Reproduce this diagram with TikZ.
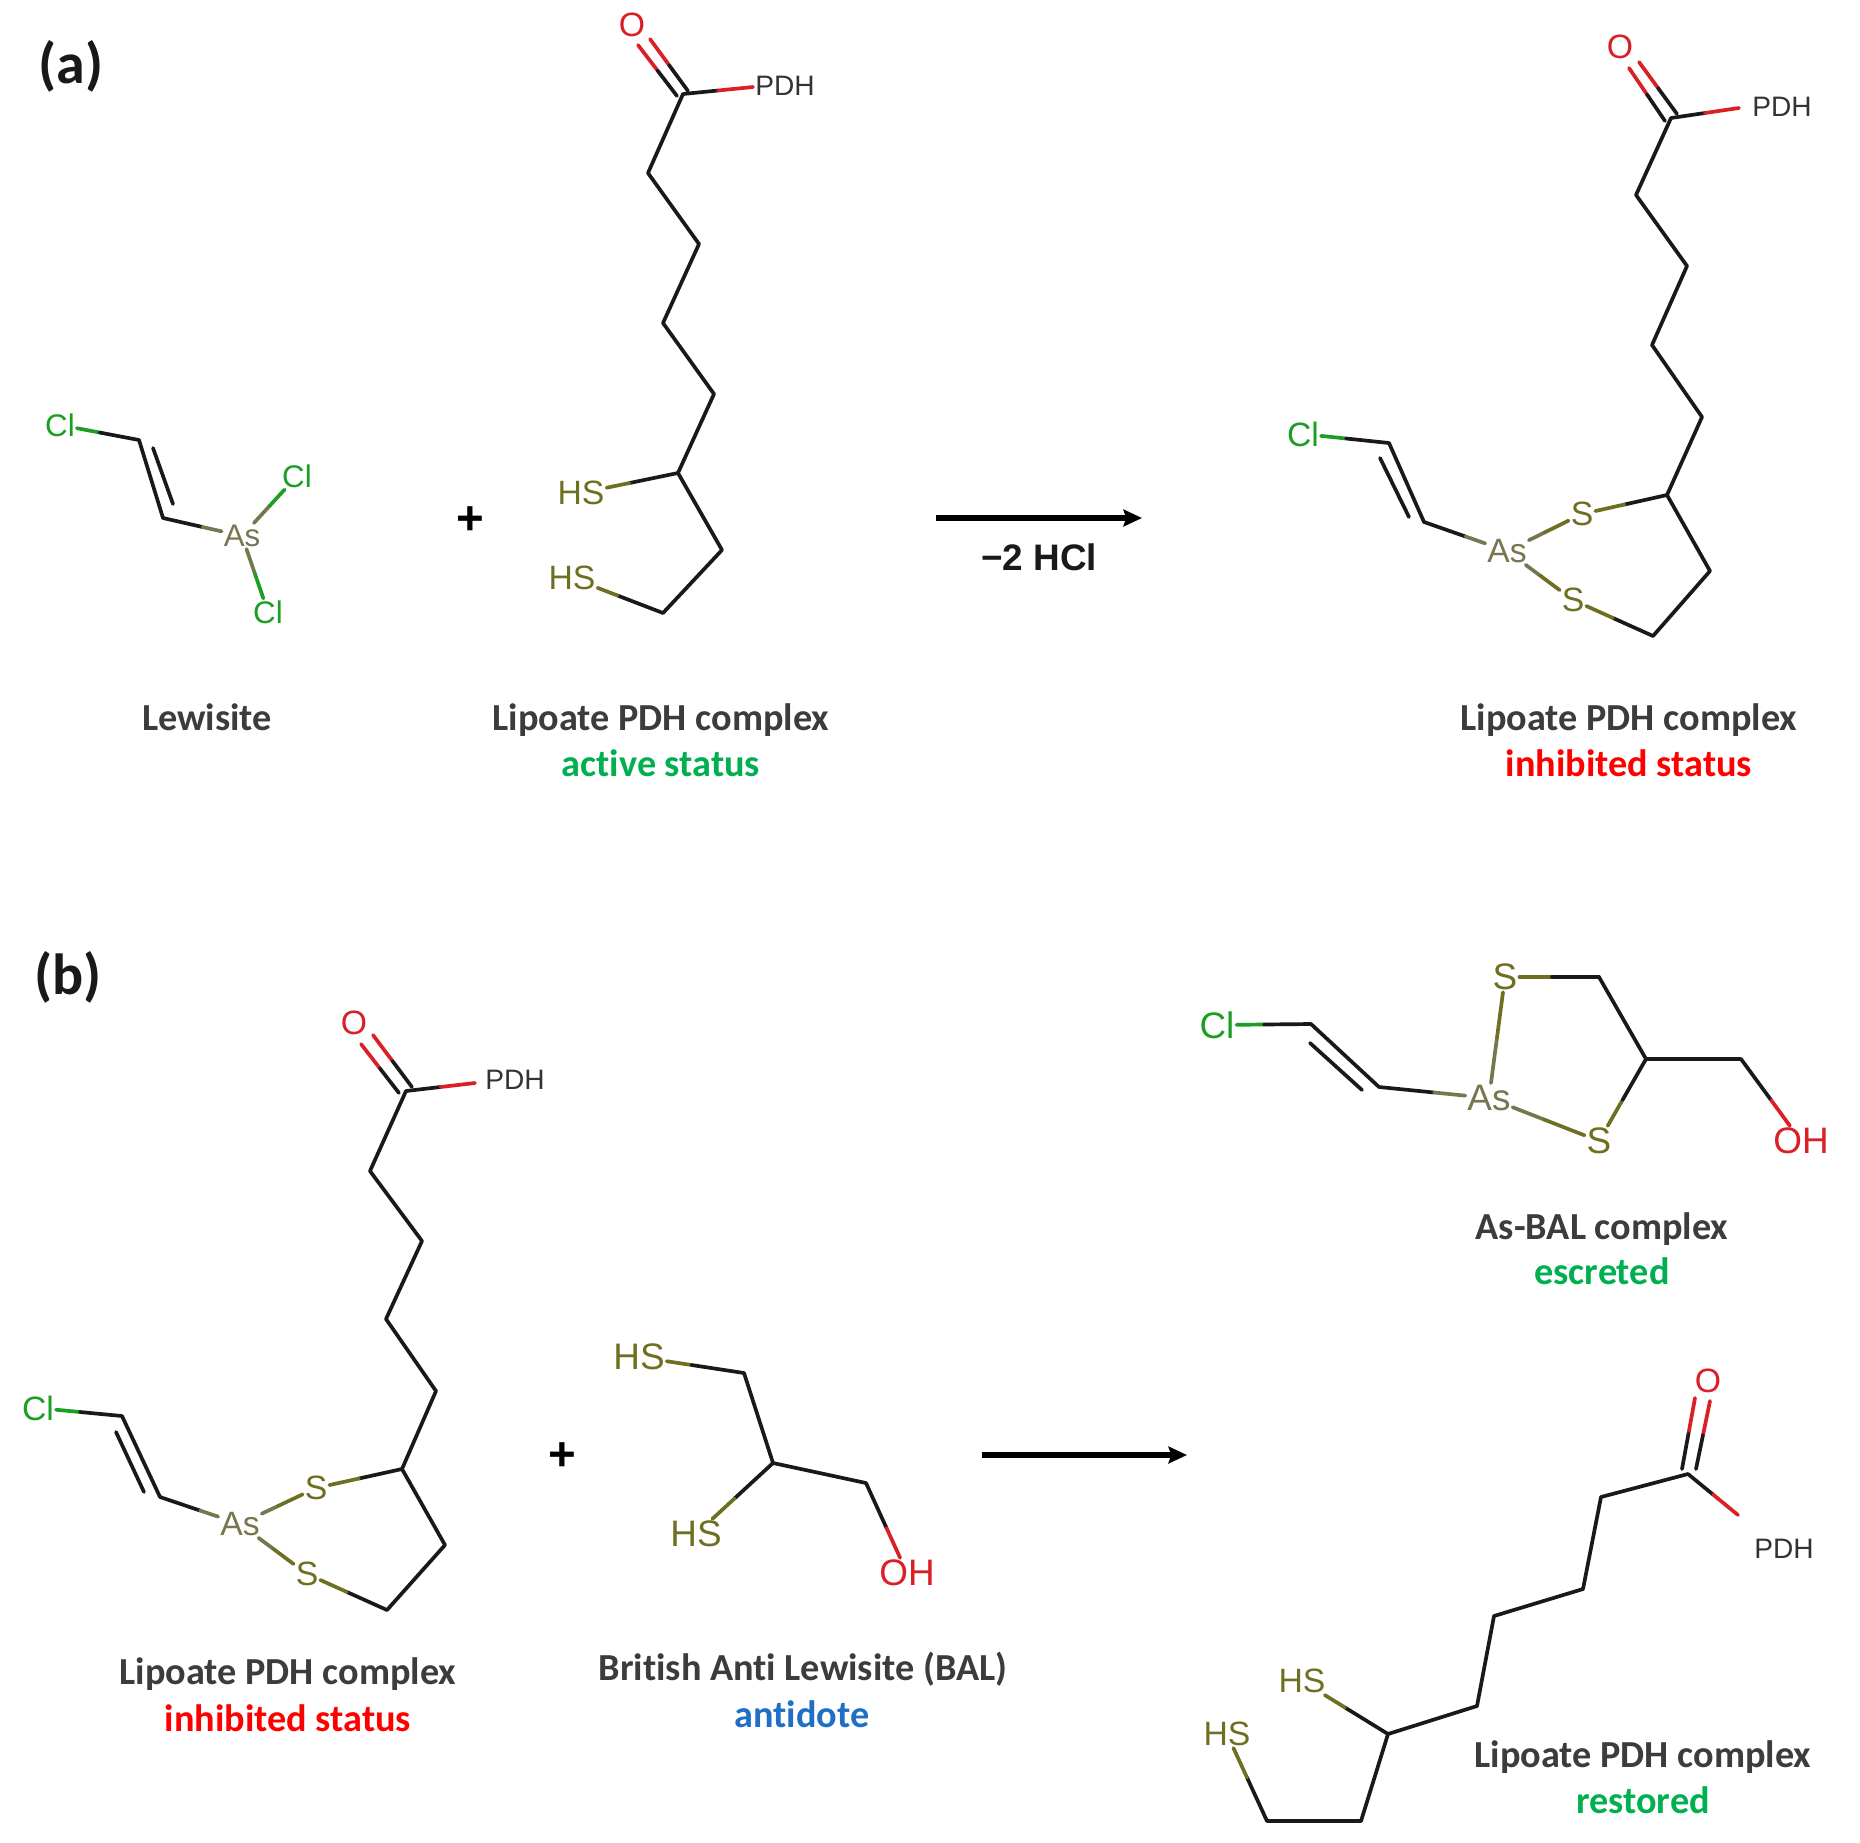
\documentclass[tikz,border=0pt]{standalone}
\usepackage{fontspec}
\setmainfont{Liberation Sans}
\newfontfamily\capfont{Carlito}[Ligatures=NoCommon,BoldFont={Carlito Bold}]
\usetikzlibrary{calc,arrows.meta}
\definecolor{clg}{HTML}{1C9E24}
\definecolor{asg}{HTML}{77774F}
\definecolor{sg}{HTML}{6F6F22}
\definecolor{og}{HTML}{DA1F26}
\definecolor{capgray}{HTML}{3C3C3C}
\definecolor{stgreen}{HTML}{00B050}
\definecolor{stred}{HTML}{FF0000}
\definecolor{stblue}{HTML}{1F6FC4}
\tikzset{
  x=0.02cm,y=-0.02cm,
  bondline/.style={line width=2.1pt,line cap=round,line join=round},
  cbond/.style={bondline,black!90},
  atomlabel/.style={inner sep=1pt,font=\fontsize{19.2}{21}\selectfont},
  atomcl/.style={atomlabel,text=clg},
  atomas/.style={atomlabel,text=asg},
  atoms/.style={atomlabel,text=sg},
  atomo/.style={atomlabel,text=og},
  bigatom/.style={font=\fontsize{21}{23}\selectfont},
  smallatom/.style={font=\fontsize{17.8}{20}\selectfont},
  pdhlabel/.style={inner sep=1pt,text=black!80,font=\fontsize{16}{18}\selectfont},
  captext/.style={inner sep=0pt,text height=16pt,text depth=4.2pt,font=\capfont\bfseries\fontsize{21.75}{24}\selectfont,text=capgray},
  panel/.style={inner sep=0pt,font=\capfont\bfseries\fontsize{33}{36}\selectfont,text=black!90},
  plussign/.style={inner sep=0pt,font=\bfseries\fontsize{27}{30}\selectfont,text=black},
  rxn/.style={line width=3.6pt,-{Stealth[length=10.5pt,width=9.5pt,inset=1.5pt]},black},
}
% two-tone bond: first half colour #3, second half colour #4
\newcommand\tb[4]{%
  \draw[bondline,#3] (#1) -- ($(#1)!.5!(#2)$);
  \draw[bondline,#4] ($(#1)!.5!(#2)$) -- (#2);
}
\begin{document}
\begin{tikzpicture}
\path[use as bounding box,fill=white] (0,0) rectangle (1860,1843);

% ---------- panel labels
\node[panel] (pa) at (71,66) {(a)};
\node[panel] (pb) at (68,977) {(b)};

\begin{scope}[shift={(-2,-1)}]
% ---------- (a) Lewisite
\node[atomcl,smallatom] (lcl1) at (62,426) {Cl};
\node[atomas,smallatom] (las) at (244,537) {As};
\node[atomcl,smallatom] (lcl2) at (299,477) {Cl};
\node[atomcl,smallatom] (lcl3) at (270,613) {Cl};
\coordinate (lc1) at (141,441);
\coordinate (lc2) at (165,519);
\coordinate (ld1) at (155,449);
\coordinate (ld2) at (175,505);
\tb{lcl1}{lc1}{clg}{black!90}
\draw[cbond] (lc1) -- (lc2);
\draw[cbond] (ld1) -- (ld2);
\tb{lc2}{las}{black!90}{asg}
\tb{las}{lcl2}{asg}{clg}
\tb{las}{lcl3}{asg}{clg}
\node[plussign] (pl1) at (472,522) {+};

% ---------- (a) Lipoate active
\node[atomo] (ao) at (634,26) {O};
\coordinate (ac) at (685,95);
\coordinate (ae) at (755,88);
\node[pdhlabel] (apdh) at (787,87) {PDH};
\coordinate (ad1) at (652,40); \coordinate (ad2) at (690,92);
\coordinate (ad3) at (640,46); \coordinate (ad4) at (679,97);
\tb{ad1}{ad2}{og}{black!90}
\tb{ad3}{ad4}{og}{black!90}
\tb{ac}{ae}{black!90}{og}
\coordinate (a1) at (650,174);
\coordinate (a2) at (701,245);
\coordinate (a3) at (665,324);
\coordinate (a4) at (716,395);
\coordinate (a5) at (680,474);
\coordinate (a6) at (724,551);
\coordinate (a7) at (665,614);
\draw[cbond] (ac) -- (a1) -- (a2) -- (a3) -- (a4) -- (a5) -- (a6) -- (a7);
\node[atoms] (ahs1) at (583,494) {HS};
\node[atoms] (ahs2) at (574,579) {HS};
\tb{a5}{ahs1}{black!90}{sg}
\tb{a7}{ahs2}{black!90}{sg}

% ---------- (a) arrow
\coordinate (ar1) at (938,519);
\coordinate (ar2) at (1144,519);
\draw[rxn] (ar1) -- (ar2);
\node[inner sep=0pt,font=\bfseries\fontsize{21}{23}\selectfont,text=black!90] (hcl) at (1041,558) {−2 HCl};

% ---------- (a) product
\node[atomo] (po) at (1622,48) {O};
\coordinate (pc) at (1673,119);
\coordinate (pe) at (1741,109);
\node[pdhlabel] (ppdh) at (1784,108) {PDH};
\coordinate (pd1) at (1641,63); \coordinate (pd2) at (1679,115);
\coordinate (pd3) at (1631,69); \coordinate (pd4) at (1667,122);
\tb{pd1}{pd2}{og}{black!90}
\tb{pd3}{pd4}{og}{black!90}
\tb{pc}{pe}{black!90}{og}
\coordinate (p1) at (1638,196);
\coordinate (p2) at (1689,267);
\coordinate (p3) at (1654,346);
\coordinate (p4) at (1704,418);
\coordinate (p5) at (1669,496);
\coordinate (p6) at (1712,572);
\coordinate (p7) at (1655,637);
\draw[cbond] (pc) -- (p1) -- (p2) -- (p3) -- (p4) -- (p5) -- (p6) -- (p7);
\node[atoms] (ps1) at (1584,515) {S};
\node[atoms] (ps2) at (1575,601) {S};
\node[atomas] (pas) at (1509,552) {As};
\node[atomcl] (pcl) at (1305,435) {Cl};
\coordinate (pv1) at (1391,444);
\coordinate (pv2) at (1426,523);
\coordinate (pv3) at (1382,459);
\coordinate (pv4) at (1411,518);
\tb{p5}{ps1}{black!90}{sg}
\tb{p7}{ps2}{black!90}{sg}
\tb{pas}{ps1}{asg}{sg}
\tb{pas}{ps2}{asg}{sg}
\tb{pv2}{pas}{black!90}{asg}
\tb{pcl}{pv1}{clg}{black!90}
\draw[cbond] (pv1) -- (pv2);
\draw[cbond] (pv3) -- (pv4);

% ---------- (b) inhibited complex
\node[atomo] (bo) at (356,1024) {O};
\coordinate (bc) at (408,1092);
\coordinate (be) at (477,1084);
\node[pdhlabel] (bpdh) at (517,1081) {PDH};
\coordinate (bd1) at (375,1036); \coordinate (bd2) at (414,1088);
\coordinate (bd3) at (363,1045); \coordinate (bd4) at (401,1094);
\tb{bd1}{bd2}{og}{black!90}
\tb{bd3}{bd4}{og}{black!90}
\tb{bc}{be}{black!90}{og}
\coordinate (b1) at (372,1172);
\coordinate (b2) at (424,1242);
\coordinate (b3) at (388,1320);
\coordinate (b4) at (438,1392);
\coordinate (b5) at (404,1470);
\coordinate (b6) at (447,1546);
\coordinate (b7) at (389,1611);
\draw[cbond] (bc) -- (b1) -- (b2) -- (b3) -- (b4) -- (b5) -- (b6) -- (b7);
\node[atoms] (bs1) at (318,1489) {S};
\node[atoms] (bs2) at (309,1575) {S};
\node[atomas] (bas) at (242,1525) {As};
\node[atomcl] (bcl) at (40,1409) {Cl};
\coordinate (bv1) at (124,1417);
\coordinate (bv2) at (162,1498);
\coordinate (bv3) at (118,1433);
\coordinate (bv4) at (146,1493);
\tb{b5}{bs1}{black!90}{sg}
\tb{b7}{bs2}{black!90}{sg}
\tb{bas}{bs1}{asg}{sg}
\tb{bas}{bs2}{asg}{sg}
\tb{bv2}{bas}{black!90}{asg}
\tb{bcl}{bv1}{clg}{black!90}
\draw[cbond] (bv1) -- (bv2);
\draw[cbond] (bv3) -- (bv4);
\node[plussign] (pl2) at (564,1458) {+};

% ---------- (b) BAL
\node[atoms,bigatom] (ths1) at (641,1358) {HS};
\node[atoms,bigatom] (ths2) at (698,1535) {HS};
\node[atomo,bigatom] (toh) at (909,1574) {OH};
\coordinate (t1) at (746,1374);
\coordinate (t2) at (775,1464);
\coordinate (t3) at (868,1484);
\draw[cbond] (t1) -- (t2) -- (t3);
\tb{ths1}{t1}{sg}{black!90}
\tb{t2}{ths2}{black!90}{sg}
\tb{t3}{toh}{black!90}{og}

% ---------- (b) arrow
\coordinate (br1) at (984,1456);
\coordinate (br2) at (1189,1456);
\draw[rxn] (br1) -- (br2);

% ---------- (b) As-BAL complex
\node[atomcl,bigatom] (xcl) at (1219,1026) {Cl};
\node[atomas,bigatom] (xas) at (1491,1099) {As};
\node[atoms,bigatom] (xs1) at (1507,978) {S};
\node[atoms,bigatom] (xs2) at (1601,1142) {S};
\node[atomo,bigatom] (xoh) at (1803,1142) {OH};
\coordinate (xv1) at (1313,1025);
\coordinate (xv2) at (1381,1088);
\coordinate (xv3) at (1312,1044);
\coordinate (xv4) at (1364,1091);
\coordinate (x1) at (1601,978);
\coordinate (x2) at (1648,1060);
\coordinate (x3) at (1743,1060);
\tb{xcl}{xv1}{clg}{black!90}
\draw[cbond] (xv1) -- (xv2);
\draw[cbond] (xv3) -- (xv4);
\tb{xv2}{xas}{black!90}{asg}
\tb{xas}{xs1}{asg}{sg}
\tb{xas}{xs2}{asg}{sg}
\tb{xs1}{x1}{sg}{black!90}
\draw[cbond] (x1) -- (x2) -- (x3);
\tb{xs2}{x2}{sg}{black!90}
\tb{x3}{xoh}{black!90}{og}

% ---------- (b) restored
\node[atomo] (ro) at (1710,1382) {O};
\coordinate (rc) at (1690,1475);
\coordinate (re) at (1740,1516);
\node[pdhlabel] (rpdh) at (1786,1550) {PDH};
\coordinate (rd1) at (1697,1399); \coordinate (rd2) at (1684,1470);
\coordinate (rd3) at (1712,1402); \coordinate (rd4) at (1698,1470);
\tb{rd1}{rd2}{og}{black!90}
\tb{rd3}{rd4}{og}{black!90}
\tb{rc}{re}{black!90}{og}
\coordinate (r1) at (1603,1498);
\coordinate (r2) at (1585,1590);
\coordinate (r3) at (1496,1617);
\coordinate (r4) at (1479,1707);
\coordinate (r5) at (1390,1735);
\coordinate (r6) at (1363,1822);
\coordinate (r7) at (1269,1822);
\draw[cbond] (rc) -- (r1) -- (r2) -- (r3) -- (r4) -- (r5) -- (r6) -- (r7);
\node[atoms] (rhs1) at (1304,1682) {HS};
\node[atoms] (rhs2) at (1229,1735) {HS};
\tb{r5}{rhs1}{black!90}{sg}
\tb{r7}{rhs2}{black!90}{sg}
\end{scope}

% ---------- captions
\node[captext] (c1) at (207,720) {Lewisite};
\node[captext] (c2) at (661,720) {Lipoate PDH complex};
\node[captext,text=stgreen] (c3) at (661,766) {active status};
\node[captext] (c4) at (1629,720) {Lipoate PDH complex};
\node[captext,text=stred] (c5) at (1629,766) {inhibited status};
\node[captext] (c6) at (288,1674) {Lipoate PDH complex};
\node[captext,text=stred] (c7) at (288,1721) {inhibited status};
\node[captext] (c8) at (803,1670) {British Anti Lewisite (BAL)};
\node[captext,text=stblue] (c9) at (802,1717) {antidote};
\node[captext] (c10) at (1602,1229) {As-BAL complex};
\node[captext,text=stgreen] (c11) at (1602,1274) {escreted};
\node[captext] (c12) at (1643,1757) {Lipoate PDH complex};
\node[captext,text=stgreen] (c13) at (1643,1803) {restored};
\end{tikzpicture}
\end{document}
